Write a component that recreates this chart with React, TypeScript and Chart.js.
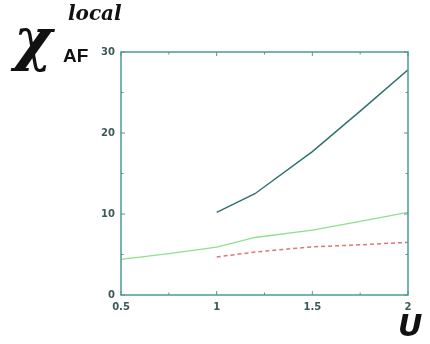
import React, { useEffect, useRef } from "react";
import { Chart, registerables } from "chart.js";

Chart.register(...registerables);

const upperX = [1, 1.2, 1.5, 1.75, 2];
const upperY = [10.2, 12.5, 17.7, 22.7, 27.8];
const greenX = [0.5, 0.75, 1, 1.2, 1.5, 1.75, 2];
const greenY = [4.4, 5.1, 5.9, 7.1, 8.0, 9.1, 10.2];
const redX = [1, 1.2, 1.5, 1.75, 2];
const redY = [4.7, 5.3, 5.95, 6.2, 6.5];
const xTicks = [0.5, 1, 1.5, 2];
const xMinor = [0.75, 1.25, 1.75];
const yTicks = [0, 10, 20, 30];
const yMinor = [5, 15, 25];

const AXIS = "#4a9a98";

const framePlugin = {
  id: "frame",
  afterDraw(chart: any) {
    const { ctx, chartArea: a, scales } = chart;
    ctx.save();
    ctx.strokeStyle = AXIS;
    ctx.lineWidth = 1.5;
    ctx.strokeRect(a.left, a.top, a.right - a.left, a.bottom - a.top);
    ctx.lineWidth = 1;
    const tick = (vals: number[], len: number) => {
      vals.forEach((v) => {
        const px = scales.x.getPixelForValue(v);
        ctx.beginPath();
        ctx.moveTo(px, a.bottom);
        ctx.lineTo(px, a.bottom - len);
        ctx.moveTo(px, a.top);
        ctx.lineTo(px, a.top + len);
        ctx.stroke();
      });
    };
    const ytick = (vals: number[], len: number) => {
      vals.forEach((v) => {
        const py = scales.y.getPixelForValue(v);
        ctx.beginPath();
        ctx.moveTo(a.left, py);
        ctx.lineTo(a.left + len, py);
        ctx.moveTo(a.right, py);
        ctx.lineTo(a.right - len, py);
        ctx.stroke();
      });
    };
    tick(xTicks, 4);
    tick(xMinor, 2.5);
    ytick(yTicks, 4);
    ytick(yMinor, 2.5);
    ctx.restore();
  },
};

export default function App() {
  const ref = useRef<HTMLCanvasElement>(null);
  useEffect(() => {
    if (!ref.current) return;
    const toPts = (xs: number[], ys: number[]) => xs.map((x, i) => ({ x, y: ys[i] }));
    const chart = new Chart(ref.current, {
      type: "line",
      data: {
        datasets: [
          {
            data: toPts(upperX, upperY),
            borderColor: "#2d6f6c",
            borderWidth: 1.4,
            pointRadius: 0,
            tension: 0,
          },
          {
            data: toPts(greenX, greenY),
            borderColor: "#8ee08e",
            borderWidth: 1.3,
            pointRadius: 0,
            tension: 0,
          },
          {
            data: toPts(redX, redY),
            borderColor: "#e07575",
            borderWidth: 1.5,
            borderDash: [4, 3],
            pointRadius: 0,
            tension: 0,
          },
        ],
      },
      options: {
        animation: false,
        responsive: false,
        layout: { padding: { left: 0, right: 22, top: 52, bottom: 0 } },
        plugins: { legend: { display: false }, tooltip: { enabled: false } },
        scales: {
          x: {
            type: "linear",
            min: 0.5,
            max: 2,
            afterBuildTicks: (s: any) => {
              s.ticks = xTicks.map((v) => ({ value: v }));
            },
            afterFit: (s: any) => {
              s.height = 49;
            },
            grid: { display: false, drawTicks: false },
            border: { display: false },
            ticks: {
              padding: 6,
              color: "#3b5a58",
              font: { family: "DejaVu Sans", size: 10, weight: "bold" },
              callback: (v: any) => String(v),
            },
          },
          y: {
            min: 0,
            max: 30,
            afterBuildTicks: (s: any) => {
              s.ticks = yTicks.map((v) => ({ value: v }));
            },
            afterFit: (s: any) => {
              s.width = 121;
            },
            grid: { display: false, drawTicks: false },
            border: { display: false },
            ticks: {
              padding: 6,
              color: "#3b5a58",
              font: { family: "DejaVu Sans", size: 10, weight: "bold" },
            },
          },
        },
      },
      plugins: [framePlugin],
    });
    return () => chart.destroy();
  }, []);
  return (
    <div style={{ position: "fixed", left: 0, top: 0, width: 430, height: 344, background: "#fff" }}>
      <canvas ref={ref} width={430} height={344} style={{ position: "absolute", left: 0, top: 0 }} />
      <div style={{ position: "absolute", left: 14, top: 10, fontFamily: "DejaVu Serif", fontStyle: "italic", fontSize: 58, fontWeight: "bold", color: "#111", lineHeight: 1 }}>χ</div>
      <div style={{ position: "absolute", left: 63, top: 46, fontFamily: "Liberation Sans Narrow, Liberation Sans", fontWeight: "bold", fontSize: 19, color: "#111", lineHeight: 1 }}>AF</div>
      <div style={{ position: "absolute", left: 68, top: 3, fontFamily: "DejaVu Serif", fontStyle: "italic", fontWeight: "bold", fontSize: 20, color: "#111", lineHeight: 1 }}>local</div>
      <div style={{ position: "absolute", left: 398, top: 311, fontFamily: "DejaVu Sans", fontWeight: "bold", fontStyle: "italic", fontSize: 30, color: "#111", lineHeight: 1 }}>U</div>
    </div>
  );
}
